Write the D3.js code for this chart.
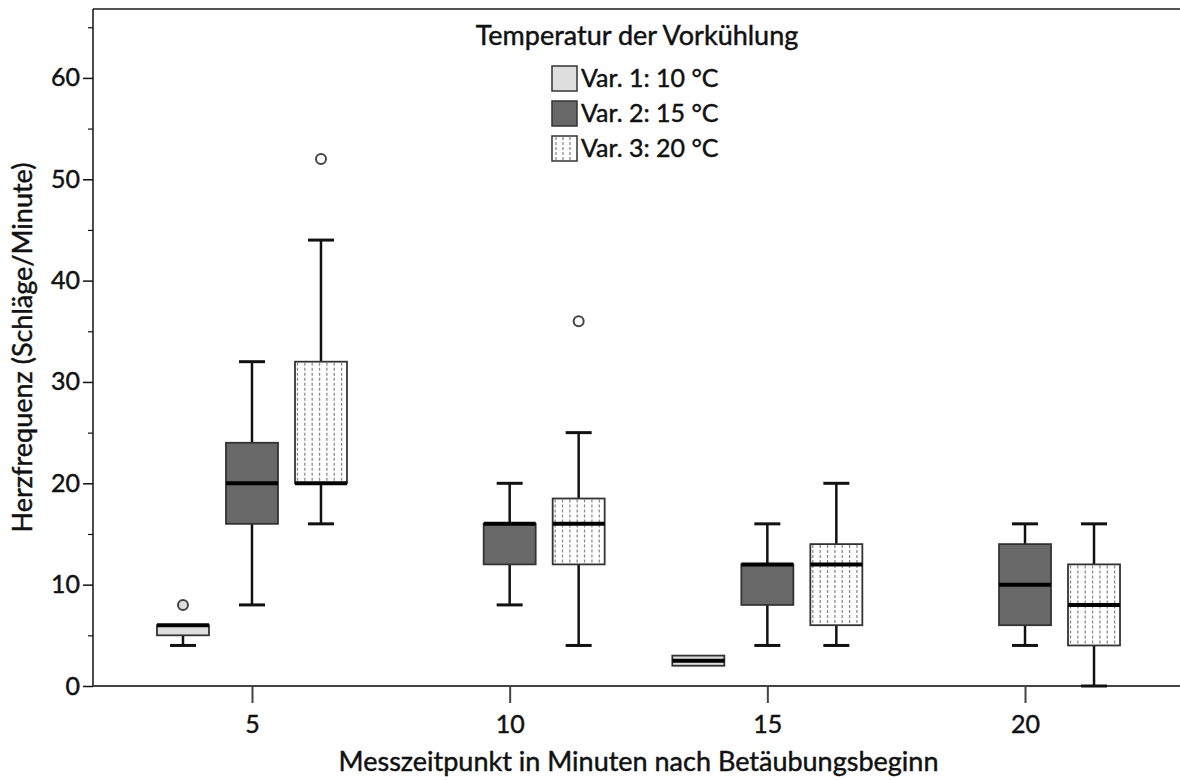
<!DOCTYPE html>
<html>
<head>
<meta charset="utf-8">
<script src="https://cdn.jsdelivr.net/npm/d3@7"></script>
<style>
  html, body { margin: 0; padding: 0; background: #fff; }
  text { font-family: Lato, "Open Sans", sans-serif; fill: #111; stroke: #111; stroke-width: 0.45px; }
</style>
</head>
<body>
<script>
// Measurement times (minutes after onset of anaesthesia)
const categories = ["5", "10", "15", "20"];
const seriesNames = ["Var. 1: 10 °C", "Var. 2: 15 °C", "Var. 3: 20 °C"];
const seriesFills = ["#dedede", "#686868", "#ffffff"];

// Box statistics per time point: [min, q1, median, q3, max]; null = no data
const var1Stats = [[4, 5, 6, 6, 6], null, [2, 2, 2.5, 3, 3], null];
const var2Stats = [[8, 16, 20, 24, 32], [8, 12, 16, 16, 20], [4, 8, 12, 12, 16], [4, 6, 10, 14, 16]];
const var3Stats = [[16, 20, 20, 32, 44], [4, 12, 16, 18.5, 25], [4, 6, 12, 14, 20], [0, 4, 8, 12, 16]];

// Outliers per time point
const var1Outliers = [[8], [], [], []];
const var2Outliers = [[], [], [], []];
const var3Outliers = [[52], [36], [], []];

const yTicks = [0, 10, 20, 30, 40, 50, 60];
const yMinorTicks = [5, 15, 25, 35, 45, 55, 65];

const statsBySeries = [var1Stats, var2Stats, var3Stats];
const outliersBySeries = [var1Outliers, var2Outliers, var3Outliers];

const W = 1180, H = 780;
const plot = { left: 93, right: 1184, top: 9, bottom: 686 };

const svg = d3.select("body").append("svg")
  .attr("width", W).attr("height", H);

const x = d3.scalePoint().domain(categories)
  .range([plot.left, plot.right]).padding(0.617);
const xs = d3.scalePoint().domain(seriesNames).range([-69, 69]);
const y = d3.scaleLinear().domain([0, 66.8]).range([plot.bottom, plot.top]);

const boxW = 52, capW = 26;

// Top frame line
svg.append("line")
  .attr("x1", plot.left).attr("x2", plot.right)
  .attr("y1", plot.top).attr("y2", plot.top)
  .attr("stroke", "#555").attr("stroke-width", 2);

// Y axis
const yAxis = svg.append("g").attr("transform", `translate(${plot.left},0)`)
  .call(d3.axisLeft(y).tickValues(yTicks).tickSize(10).tickPadding(3).tickFormat(d3.format("d")));
yAxis.select(".domain").attr("stroke", "#111").attr("stroke-width", 1.5)
  .attr("d", `M0,${plot.top}V${plot.bottom}`);
yAxis.selectAll(".tick line").attr("stroke", "#111").attr("stroke-width", 1.5);
yAxis.selectAll(".tick text").style("font-size", "25px").attr("fill", "#111");

const yMinor = svg.append("g").attr("transform", `translate(${plot.left},0)`)
  .call(d3.axisLeft(y).tickValues(yMinorTicks).tickSize(5).tickFormat(""));
yMinor.select(".domain").remove();
yMinor.selectAll(".tick line").attr("stroke", "#111").attr("stroke-width", 1.2);

// X axis
const xAxis = svg.append("g").attr("transform", `translate(0,${plot.bottom})`)
  .call(d3.axisBottom(x).tickSize(17).tickPadding(12));
xAxis.select(".domain").attr("stroke", "#444").attr("stroke-width", 2)
  .attr("d", `M${plot.left},0H${plot.right}`);
xAxis.selectAll(".tick line").attr("stroke", "#444").attr("stroke-width", 2);
xAxis.selectAll(".tick text").style("font-size", "25px").attr("fill", "#111");

// Axis titles
svg.append("text")
  .attr("x", (plot.left + plot.right) / 2).attr("y", 771)
  .attr("text-anchor", "middle").style("font-size", "27px")
  .text("Messzeitpunkt in Minuten nach Betäubungsbeginn");

svg.append("text")
  .attr("transform", `translate(32,${(plot.top + plot.bottom) / 2}) rotate(-90)`)
  .attr("text-anchor", "middle").style("font-size", "27px")
  .text("Herzfrequenz (Schläge/Minute)");

// Vertical dotted hatching used for the third series
function hatch(g, x0, y0, w, h, offsets) {
  g.selectAll(null).data(offsets).join("line")
    .attr("x1", d => x0 + d).attr("x2", d => x0 + d)
    .attr("y1", y0 + 1).attr("y2", y0 + h - 1)
    .attr("stroke", "#8c8c8c").attr("stroke-width", 1.3)
    .attr("stroke-dasharray", "3,2");
}
const boxHatch = d3.range(7).map(i => 2.5 + i * 7.35);

// Boxes
const boxes = svg.append("g");
statsBySeries.forEach((stats, si) => {
  const name = seriesNames[si];
  stats.forEach((st, ci) => {
    if (!st) return;
    const [mn, q1, md, q3, mx] = st;
    const cx = x(categories[ci]) + xs(name);
    const g = boxes.append("g");
    // whiskers with caps
    if (mx > q3) {
      g.append("line").attr("x1", cx).attr("x2", cx).attr("y1", y(mx)).attr("y2", y(q3))
        .attr("stroke", "#111").attr("stroke-width", 2.5);
      g.append("line").attr("x1", cx - capW / 2).attr("x2", cx + capW / 2).attr("y1", y(mx)).attr("y2", y(mx))
        .attr("stroke", "#111").attr("stroke-width", 3);
    }
    if (mn < q1) {
      g.append("line").attr("x1", cx).attr("x2", cx).attr("y1", y(q1)).attr("y2", y(mn))
        .attr("stroke", "#111").attr("stroke-width", 2.5);
      g.append("line").attr("x1", cx - capW / 2).attr("x2", cx + capW / 2).attr("y1", y(mn)).attr("y2", y(mn))
        .attr("stroke", "#111").attr("stroke-width", 3);
    }
    // box
    const bx = cx - boxW / 2, by = y(q3), bh = y(q1) - y(q3);
    g.append("rect").attr("x", bx).attr("y", by).attr("width", boxW).attr("height", bh)
      .attr("fill", seriesFills[si]).attr("stroke", "none");
    if (si === 2) hatch(g, bx, by, boxW, bh, boxHatch);
    g.append("rect").attr("x", bx).attr("y", by).attr("width", boxW).attr("height", bh)
      .attr("fill", "none").attr("stroke", "#333").attr("stroke-width", 1.8);
    // median
    g.append("line").attr("x1", bx).attr("x2", bx + boxW).attr("y1", y(md)).attr("y2", y(md))
      .attr("stroke", "#000").attr("stroke-width", 4);
    // outliers
    g.selectAll("circle").data(outliersBySeries[si][ci]).join("circle")
      .attr("cx", cx).attr("cy", d => y(d)).attr("r", 5)
      .attr("fill", si === 0 ? "#dedede" : "#fff")
      .attr("stroke", "#444").attr("stroke-width", 2);
  });
});

// Legend
const legend = svg.append("g");
legend.append("text")
  .attr("x", 637).attr("y", 45).attr("text-anchor", "middle")
  .style("font-size", "27px").text("Temperatur der Vorkühlung");
seriesNames.forEach((name, i) => {
  const ly = 66 + i * 35;
  const g = legend.append("g");
  g.append("rect").attr("x", 552).attr("y", ly).attr("width", 25).attr("height", 25)
    .attr("fill", seriesFills[i]);
  if (i === 2) hatch(g, 552, ly, 25, 25, [4, 11, 18]);
  g.append("rect").attr("x", 552).attr("y", ly).attr("width", 25).attr("height", 25)
    .attr("fill", "none").attr("stroke", "#333").attr("stroke-width", 1.5);
  g.append("text").attr("x", 581).attr("y", ly + 21)
    .style("font-size", "25px").text(name);
});
</script>
</body>
</html>
